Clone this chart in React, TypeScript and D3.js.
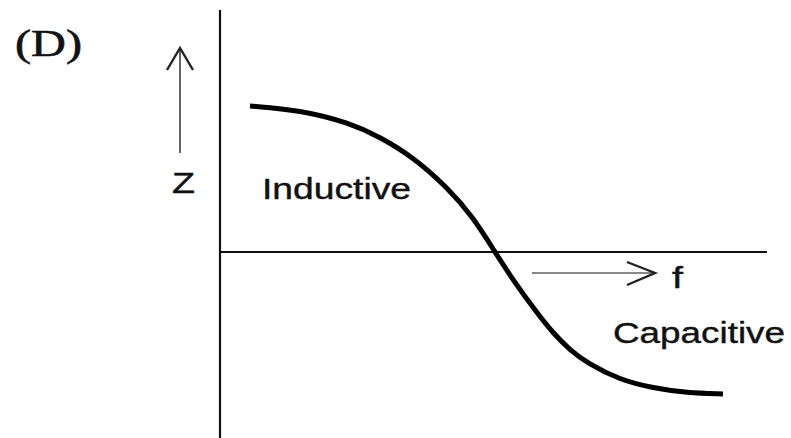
import React from "react";
import * as d3 from "d3";

// Curve (f along horizontal axis, Z along vertical axis; origin at axes crossing)
const freq = [30, 80, 130, 160, 193, 227, 253, 275, 293, 317, 333, 350, 367, 400, 433, 467, 503];
const impedance = [146, 142, 129, 115, 95, 65, 35, 0, -28, -61, -81, -98, -111, -128, -136, -141, -142];

const labels = {
  panel: "(D)",
  yName: "Z",
  xName: "f",
  upper: "Inductive",
  lower: "Capacitive",
};

const W = 791;
const H = 438;

export default function App() {
  const x = d3.scaleLinear().domain([0, 547]).range([220, 767]);
  const y = d3.scaleLinear().domain([-186, 242]).range([438, 10]);

  const pts: [number, number][] = freq.map((f, i) => [f, impedance[i]]);
  const line = d3
    .line<[number, number]>()
    .x((d) => x(d[0]))
    .y((d) => y(d[1]))
    .curve(d3.curveBasis);

  const x0 = x(0);
  const y0 = y(0);

  const sans = "'Liberation Sans', Arial, sans-serif";

  return (
    <svg
      width={W}
      height={H}
      style={{ position: "absolute", left: 0, top: 0, background: "#fff" }}
    >
      {/* axes */}
      <line x1={x0} y1={y(242)} x2={x0} y2={H} stroke="#111" strokeWidth={2.2} />
      <line x1={x0} y1={y0} x2={x(547)} y2={y0} stroke="#111" strokeWidth={2.2} />

      {/* curve */}
      <path d={line(pts) || ""} fill="none" stroke="#000" strokeWidth={5} strokeLinecap="butt" />

      {/* Z arrow */}
      <line x1={180} y1={153} x2={180} y2={48} stroke="#666" strokeWidth={2} />
      <polyline points="167,70 180,48 193,70" fill="none" stroke="#222" strokeWidth={2.4} />

      {/* f arrow */}
      <line x1={532} y1={273} x2={654} y2={273} stroke="#888" strokeWidth={2.2} />
      <polyline points="627,262 655,273 627,285" fill="none" stroke="#222" strokeWidth={2.4} />

      {/* text */}
      <text
        x={15}
        y={56}
        fontFamily="'Liberation Serif', 'Times New Roman', serif"
        fontSize={37}
        textLength={67}
        lengthAdjust="spacingAndGlyphs"
        fill="#111"
        stroke="#111"
        strokeWidth={0.6}
      >
        {labels.panel}
      </text>
      <text
        x={172}
        y={193}
        fontFamily={sans}
        fontSize={29}
        textLength={23}
        lengthAdjust="spacingAndGlyphs"
        fill="#111"
        stroke="#111"
        strokeWidth={0.4}
      >
        {labels.yName}
      </text>
      <text
        x={262}
        y={199}
        fontFamily={sans}
        fontSize={30}
        textLength={149}
        lengthAdjust="spacingAndGlyphs"
        fill="#111"
        stroke="#111"
        strokeWidth={0.4}
      >
        {labels.upper}
      </text>
      <text
        x={672}
        y={288}
        fontFamily={sans}
        fontSize={29}
        textLength={11}
        lengthAdjust="spacingAndGlyphs"
        fill="#111"
        stroke="#111"
        strokeWidth={0.4}
      >
        {labels.xName}
      </text>
      <text
        x={613}
        y={343}
        fontFamily={sans}
        fontSize={29}
        textLength={172}
        lengthAdjust="spacingAndGlyphs"
        fill="#111"
        stroke="#111"
        strokeWidth={0.4}
      >
        {labels.lower}
      </text>
    </svg>
  );
}
